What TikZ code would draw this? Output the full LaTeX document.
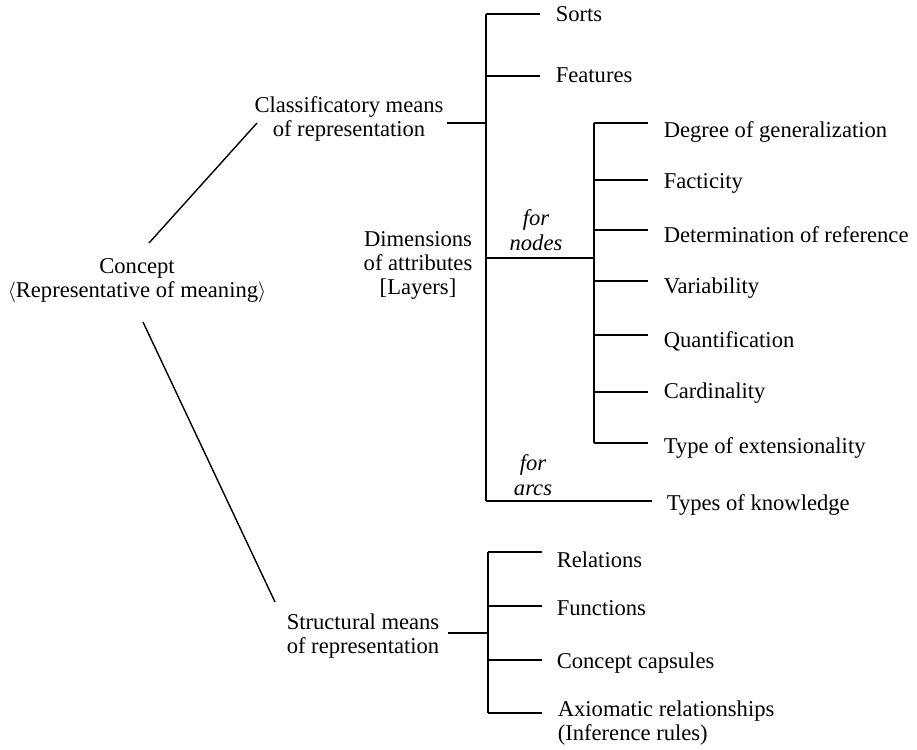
\documentclass[tikz,border=0pt]{standalone}
\usepackage{fontspec}
\setmainfont{Liberation Serif}
\begin{document}
\begin{tikzpicture}[x=1pt,y=-1pt,
  line width=1.6pt,
  lbl/.style={inner sep=0pt, font=\fontsize{22.6}{24}\selectfont, align=center},
  leaf/.style={inner sep=0pt, font=\fontsize{22.6}{24}\selectfont, anchor=base west, align=left},
  note/.style={inner sep=0pt, font=\fontsize{22.6}{25}\selectfont\itshape, align=center},
  diag/.style={line width=1.4pt}]
\useasboundingbox (0,0) rectangle (917,749);

% main concepts
\node[lbl] (concept) at (137,281) {Concept\\$\langle$Representative of meaning$\rangle$};
\node[lbl] (classif) at (349,119) {Classificatory means\\of representation};
\node[lbl] (dims) at (418,265) {Dimensions\\of attributes\\{[Layers]}};
\node[lbl] (struct) at (363,636) {Structural means\\of representation};

% diagonal links from the concept
\coordinate (cUp) at (149,243);
\coordinate (cDown) at (143,322);
\coordinate (classIn) at (257,123);
\coordinate (structIn) at (275,602);
\draw[diag] (cUp) -- (classIn);
\draw[diag] (cDown) -- (structIn);

% classificatory trunk
\coordinate (clStart) at (447,123);
\coordinate (clTop) at (486,14);
\coordinate (clMid) at (486,123);
\coordinate (clBot) at (486,501);
\coordinate (clNodes) at (486,258);
\draw (clStart) -- (clMid);
\draw (clTop) -- (clBot);

\node[leaf] (sorts) at (555,22) {Sorts};
\node[leaf] (features) at (555,83) {Features};
\draw (clTop) -- (540,14);
\draw (486,76) coordinate (clFeat) -- (540,76);

% attribute dimensions for nodes
\node[note] (fornodes) at (536,230) {for\\nodes};
\coordinate (nTop) at (594,123);
\coordinate (nJoin) at (594,258);
\coordinate (nBot) at (594,443);
\draw (clNodes) -- (nJoin);
\draw (nTop) -- (nBot);

\foreach \nm/\ly/\by/\txt in {
  gen/123/137/Degree of generalization,
  fact/180/188/Facticity,
  ref/230/242/Determination of reference,
  var/281/293/Variability,
  quant/335/347/Quantification,
  card/392/398/Cardinality,
  ext/443/453/Type of extensionality}{
  \node[leaf] (\nm) at (663,\by) {\txt};
  \coordinate (t\nm) at (594,\ly);
  \draw (t\nm) -- (648,\ly);
}

% attribute dimensions for arcs
\node[note] (forarcs) at (533,475) {for\\arcs};
\node[leaf] (know) at (666,510) {Types of knowledge};
\draw (clBot) -- (652,501);

% structural trunk
\coordinate (stStart) at (448,633);
\coordinate (stMid) at (488,633);
\coordinate (stTop) at (488,552);
\coordinate (stBot) at (488,713);
\draw (stStart) -- (stMid);
\draw (stTop) -- (stBot);

\foreach \nm/\ly/\by/\txt in {
  rel/552/567/Relations,
  fun/606/615/Functions,
  caps/660/668/Concept capsules}{
  \node[leaf] (\nm) at (556,\by) {\txt};
  \coordinate (t\nm) at (488,\ly);
  \draw (t\nm) -- (542,\ly);
}
\node[leaf] (axiom) at (557,740) {Axiomatic relationships\\(Inference rules)};
\draw (stBot) -- (542,713);
\end{tikzpicture}
\end{document}
